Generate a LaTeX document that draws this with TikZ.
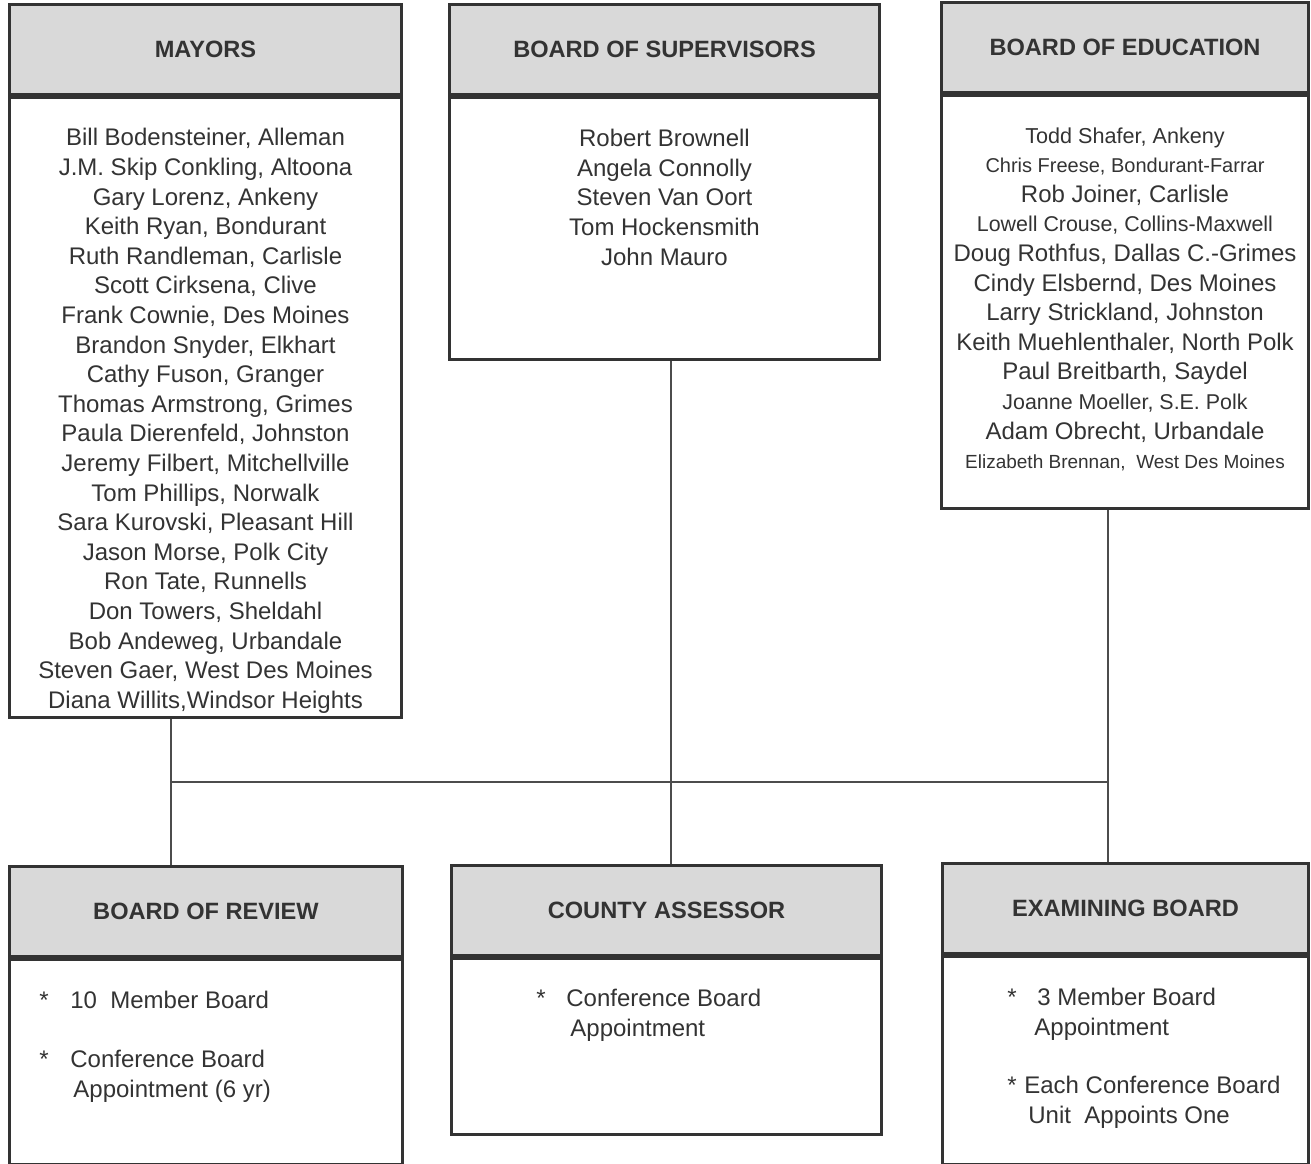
\documentclass[tikz,border=0pt]{standalone}
\usepackage{fontspec}
\setmainfont{Liberation Sans}
\usepackage{xcolor}
\usetikzlibrary{positioning}
\newcommand{\fsz}[1]{\fontsize{#1}{14.8}\selectfont}

\begin{document}
\begin{tikzpicture}[x=0.5pt, y=-0.5pt]
        % hdr = grey title bar, bdy = white box under it
        \tikzstyle{hdr}=[rectangle, draw=black!80, line width=1.5pt, fill=black!15, text=black!80, font=\bfseries\fontsize{11.8}{14}\selectfont, minimum height=45pt, inner sep=0pt, anchor=north west]
        \tikzstyle{bdy}=[rectangle, draw=black!80, line width=1.5pt, fill=white, inner sep=0pt, anchor=north]
        \tikzstyle{names}=[align=center, inner sep=0pt, text=black!80, font=\fsz{12}]
        \tikzstyle{item}=[align=left, inner sep=0pt, text=black!80, font=\fsz{12}, anchor=north west]
        \tikzstyle{link}=[draw=black!70, line width=0.8pt]
        \useasboundingbox (0,0) rectangle (1311,1163);

        % top row
        \node (may) [hdr, minimum width=196pt, minimum height=45pt] at (8,3) {MAYORS};
        \node (mayb) [bdy, minimum width=196pt, minimum height=310pt] at (may.south) {};
        \node (sup) [hdr, minimum width=215pt] at (448,3) {BOARD OF SUPERVISORS};
        \node (supb) [bdy, minimum width=215pt, minimum height=131pt] at (sup.south) {};
        \node (edu) [hdr, minimum width=183.5pt] at (940,1) {BOARD OF EDUCATION};
        \node (edub) [bdy, minimum width=183.5pt, minimum height=206.5pt] at (edu.south) {};

        \node (mayt) [names, below=16pt of mayb.north] {Bill Bodensteiner, Alleman\\J.M. Skip Conkling, Altoona\\Gary Lorenz, Ankeny\\Keith Ryan, Bondurant\\Ruth Randleman, Carlisle\\Scott Cirksena, Clive\\Frank Cownie, Des Moines\\Brandon Snyder, Elkhart\\Cathy Fuson, Granger\\Thomas Armstrong, Grimes\\Paula Dierenfeld, Johnston\\Jeremy Filbert, Mitchellville\\Tom Phillips, Norwalk\\Sara Kurovski, Pleasant Hill\\Jason Morse, Polk City\\Ron Tate, Runnells\\Don Towers, Sheldahl\\Bob Andeweg, Urbandale\\Steven Gaer, West Des Moines\\Diana Willits,Windsor Heights};
        \node (supt) [names, below=16.5pt of supb.north] {Robert Brownell\\Angela Connolly\\Steven Van Oort\\Tom Hockensmith\\John Mauro};
        \node (edut) [names, below=16.5pt of edub.north] {\fsz{10.8}Todd Shafer, Ankeny\\\fsz{10}Chris Freese, Bondurant-Farrar\\\fsz{12}Rob Joiner, Carlisle\\\fsz{10.7}Lowell Crouse, Collins-Maxwell\\\fsz{12}Doug Rothfus, Dallas C.-Grimes\\\fsz{12}Cindy Elsbernd, Des Moines\\\fsz{12}Larry Strickland, Johnston\\\fsz{12}Keith Muehlenthaler, North Polk\\\fsz{12}Paul Breitbarth, Saydel\\\fsz{10.7}Joanne Moeller, S.E. Polk\\\fsz{12}Adam Obrecht, Urbandale\\\fsz{9.5}Elizabeth Brennan,\ \ West Des Moines};

        % bottom row
        \node (rev) [hdr, minimum width=196.5pt] at (8,865) {BOARD OF REVIEW};
        \node (revb) [bdy, minimum width=196.5pt, minimum height=102.5pt] at (rev.south) {};
        \node (ass) [hdr, minimum width=215pt] at (450,864) {COUNTY ASSESSOR};
        \node (assb) [bdy, minimum width=215pt, minimum height=88pt] at (ass.south) {};
        \node (exa) [hdr, minimum width=183pt] at (941,862) {EXAMINING BOARD};
        \node (exab) [bdy, minimum width=183pt, minimum height=104pt] at (exa.south) {};

        \node (revone) [item] at (39,991) {*\hspace{10.8pt}10\ \ Member Board};
        \node (revtwo) [item] at (39,1050) {*\hspace{10.8pt}Conference Board\\\hspace{17pt}Appointment (6 yr)};
        \node (assone) [item] at (536,989) {*\hspace{10.3pt}Conference Board\\\hspace{17pt}Appointment};
        \node (exaone) [item] at (1007,988) {*\hspace{10.3pt}3 Member Board\\\hspace{13.5pt}Appointment};
        \node (exatwo) [item] at (1007,1076) {*\hspace{3.8pt}Each Conference Board\\\hspace{10.5pt}Unit\ \ Appoints One};

        % connectors
        \coordinate (jl) at (171,782);
        \coordinate (jm) at (671,782);
        \coordinate (jr) at (1108,782);
        \draw[link] (mayb.south -| jl) -- (rev.north -| jl);
        \draw[link] (jl) -- (jr);
        \draw[link] (supb.south -| jm) -- (ass.north -| jm);
        \draw[link] (edub.south -| jr) -- (exa.north -| jr);
\end{tikzpicture}
\end{document}
